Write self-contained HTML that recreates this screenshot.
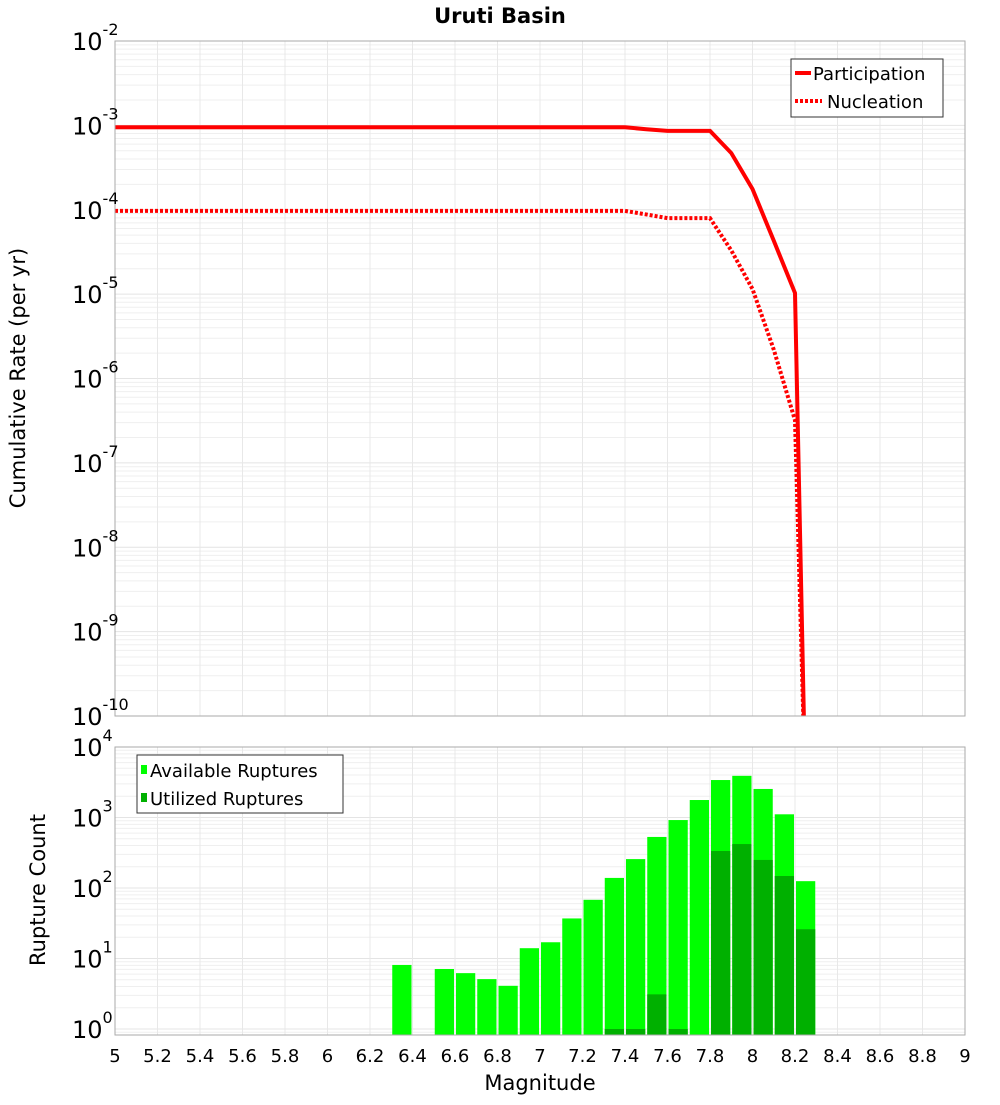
<!DOCTYPE html>
<html><head><meta charset="utf-8"><style>
body{margin:0;background:#fff;font-family:"Liberation Sans","DejaVu Sans",sans-serif}
svg text{font-family:"DejaVu Sans","Liberation Sans",sans-serif}
</style></head><body>
<svg id="c" width="1000" height="1100" xmlns="http://www.w3.org/2000/svg"></svg>
<script>
const mags=[5.0,7.4,7.5,7.6,7.7,7.8,7.9,8.0,8.1,8.2,8.25];
const participation=[9.5e-4,9.5e-4,9.0e-4,8.6e-4,8.6e-4,8.6e-4,4.7e-4,1.76e-4,4.3e-5,1.03e-5,1e-11];
const nucleation=[9.7e-5,9.7e-5,8.8e-5,7.95e-5,7.95e-5,7.95e-5,3.3e-5,1.15e-5,2.2e-6,3.2e-7,1e-11];
const binMags=[6.3,6.5,6.6,6.7,6.8,6.9,7.0,7.1,7.2,7.3,7.4,7.5,7.6,7.7,7.8,7.9,8.0,8.1,8.2];
const available=[8.1,7.1,6.2,5.1,4.1,14,17,37,68,139,257,530,920,1770,3400,3900,2540,1110,125];
const utilized=[0,0,0,0,0,0,0,0,0,1.0,1.0,3.1,1.0,0,335,420,250,148,26];
const xTicks=["5","5.2","5.4","5.6","5.8","6","6.2","6.4","6.6","6.8","7","7.2","7.4","7.6","7.8","8","8.2","8.4","8.6","8.8","9"];
const topExps=[-2,-3,-4,-5,-6,-7,-8,-9,-10];
const botExps=[4,3,2,1,0];

const NS="http://www.w3.org/2000/svg";
const svg=document.getElementById('c');
function mk(t,a,p){const e=document.createElementNS(NS,t);for(const k in a)e.setAttribute(k,a[k]);(p||svg).appendChild(e);return e;}
const X0=115,X1=965;
const x=m=>X0+(m-5)/4*(X1-X0);
const T0=41,T1=716;
const yT=v=>{const l=Math.log10(Math.max(v,1e-12));return T0+(-2-l)*(T1-T0)/8;};
const B0=747,B1=1035,BD=70.5;
const yB=v=>1029-Math.log10(v)*BD;

// title
let t=mk('text',{x:500,y:23,'text-anchor':'middle','font-size':21,'font-weight':'bold'});t.textContent='Uruti Basin';


function grid(y0,y1,yf,lo,hi,name){
  const g=mk('g',{});
  for(let e=lo;e<hi;e++)for(let k=1;k<10;k++){const yy=yf(k*Math.pow(10,e));if(yy>=y0&&yy<=y1)mk('line',{x1:X0,x2:X1,y1:yy,y2:yy,stroke:k==1?'#e4e4e4':'#efefef','stroke-width':1},g);}
  for(let i=0;i<xTicks.length;i++){const xx=x(+xTicks[i]);mk('line',{x1:xx,x2:xx,y1:y0,y2:y1,stroke:'#e8e8e8'},g);}
}
grid(T0,T1,yT,-11,-2,'top-grid');
grid(B0,B1,yB,-1,4,'bottom-grid');

// bars
const bars=mk('g',{});
binMags.forEach((m,i)=>{
  const xa=x(m)+1,w=x(m+0.1)-x(m)-2;
  let r=mk('rect',{x:xa,y:yB(available[i]),width:w,height:B1-yB(available[i]),fill:'#00ff00'},bars);
  
  if(utilized[i]>0){const yy=Math.min(yB(utilized[i]),B1-6);
    let u=mk('rect',{x:xa,y:yy,width:w,height:B1-yy,fill:'#00b000'},bars);
    }
});

// lines
const clip=mk('clipPath',{id:'tc'});mk('rect',{x:X0,y:T0,width:X1-X0,height:T1-T0},clip);
function line(vals,dash,name){const p=mk('polyline',{points:mags.map((m,i)=>x(m)+','+yT(vals[i])).join(' '),fill:'none',stroke:'#ff0000','stroke-width':4,'clip-path':'url(#tc)'});
  if(dash)p.setAttribute('stroke-dasharray',dash);}
line(participation,null,'participation-line');
line(nucleation,'3 2','nucleation-line');

// frames
mk('rect',{x:X0,y:T0,width:X1-X0,height:T1-T0,fill:'none',stroke:'#aaa'});
mk('rect',{x:X0,y:B0,width:X1-X0,height:B1-B0,fill:'none',stroke:'#aaa'});

// y ticks
function ylab(yy,e,name){const g=mk('text',{x:72,y:yy+9,'font-size':24});
  const a=mk('tspan',{},g);a.textContent='10';const b=mk('tspan',{dy:-15,'font-size':16},g);b.textContent=String(e);}
topExps.forEach(e=>ylab(yT(Math.pow(10,e)),e,'top-y-tick'));
botExps.forEach(e=>ylab(yB(Math.pow(10,e)),e,'bottom-y-tick'));
xTicks.forEach(s=>{const tt=mk('text',{x:x(+s),y:1062,'text-anchor':'middle','font-size':18});tt.textContent=s;});

// axis titles
t=mk('text',{x:540,y:1090,'text-anchor':'middle','font-size':21});t.textContent='Magnitude';
t=mk('text',{x:0,y:0,'text-anchor':'middle','font-size':21,transform:'translate(25,378) rotate(-90)'});t.textContent='Cumulative Rate (per yr)';
t=mk('text',{x:0,y:0,'text-anchor':'middle','font-size':21,transform:'translate(45,890) rotate(-90)'});t.textContent='Rupture Count';

// legends
let lg=mk('g',{});
mk('rect',{x:791,y:59,width:152,height:58,fill:'#fff',stroke:'#333'},lg);
mk('line',{x1:795,x2:811,y1:73,y2:73,stroke:'#f00','stroke-width':4},lg);
mk('line',{x1:795,x2:822,y1:101,y2:101,stroke:'#f00','stroke-width':4,'stroke-dasharray':'3 2'},lg);
t=mk('text',{x:813,y:80,'font-size':18},lg);t.textContent='Participation';
t=mk('text',{x:827,y:108,'font-size':18},lg);t.textContent='Nucleation';
lg=mk('g',{});
mk('rect',{x:137,y:755,width:206,height:58,fill:'#fff',stroke:'#333'},lg);
mk('rect',{x:141,y:765,width:6,height:9,fill:'#00ff00'},lg);
mk('rect',{x:141,y:793,width:6,height:9,fill:'#00b000'},lg);
t=mk('text',{x:150,y:777,'font-size':18},lg);t.textContent='Available Ruptures';
t=mk('text',{x:150,y:805,'font-size':18},lg);t.textContent='Utilized Ruptures';
</script>
</body></html>
